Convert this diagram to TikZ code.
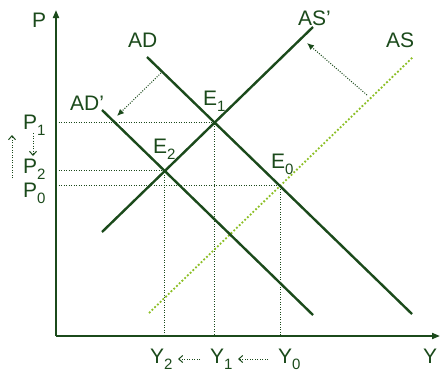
\documentclass[tikz,border=0pt]{standalone}
\usepackage{fontspec}
\setmainfont{Liberation Sans}
\usetikzlibrary{arrows.meta}
\definecolor{dkgreen}{HTML}{1B4A1B}
\definecolor{oldgreen}{HTML}{8CBF26}
\newcommand{\lowsub}[1]{\raisebox{-6pt}{\fontsize{15}{15}\selectfont #1}}

\begin{document}
\begin{tikzpicture}[
    x=1pt, y=-1pt,
    axis/.style={line width=1.8pt, draw=dkgreen, -{Triangle[length=8pt, width=6pt]}},
    curve/.style={line width=2.4pt, draw=dkgreen},
    oldcurve/.style={line width=1.8pt, draw=oldgreen, dotted},
    guide/.style={line width=1pt, draw=dkgreen, dash pattern=on 1pt off 1.5pt},
    shiftarrow/.style={line width=1pt, draw=dkgreen, dash pattern=on 1pt off 1.5pt, -{Latex[length=7pt, width=6pt]}},
    nudge/.style={line width=1pt, draw=dkgreen, dash pattern=on 1pt off 1.5pt, -{Straight Barb[length=4pt, width=7pt]}},
    lab/.style={font=\fontsize{21}{24}\selectfont, text=dkgreen, inner sep=0pt, anchor=base west},
]
\useasboundingbox (0,0) rectangle (441,373);

% Axes
\coordinate (O) at (56,336);
\coordinate (ytop) at (56,10);
\coordinate (xend) at (440,336);
\draw[axis] (O) -- (ytop);
\draw[axis] (O) -- (xend);
\node[lab] (plab) at (32,27) {P};
\node[lab] (ylab) at (423,363) {Y};

% Demand and supply lines
\coordinate (ad1) at (147,57);   \coordinate (ad2) at (412,314);
\coordinate (adp1) at (102,110); \coordinate (adp2) at (313,315);
\coordinate (asp1) at (102,232); \coordinate (asp2) at (313,27);
\coordinate (as1) at (149,313);  \coordinate (as2) at (413,57);

% Equilibria
\coordinate (E1) at (intersection of ad1--ad2 and asp1--asp2);
\coordinate (E2) at (intersection of adp1--adp2 and asp1--asp2);
\coordinate (E0) at (intersection of ad1--ad2 and as1--as2);

% Guide lines
\draw[guide] (E1 -| O) -- (E1) -- (E1 |- O);
\draw[guide] (E2 -| O) -- (E2) -- (E2 |- O);
\draw[guide] (E0 -| O) -- (E0) -- (E0 |- O);

\draw[oldcurve] (as1) -- (as2);
\draw[curve] (ad1) -- (ad2);
\draw[curve] (adp1) -- (adp2);
\draw[curve] (asp1) -- (asp2);

% Curve labels
\node[lab] (adlab) at (128,47) {AD};
\node[lab] (adplab) at (70,110) {AD'};
\node[lab] (asplab) at (298,25) {AS'};
\node[lab] (aslab) at (386,47) {AS};
\node[lab] (e1lab) at (203,105) {E\lowsub{1}};
\node[lab] (e2lab) at (153,153) {E\lowsub{2}};
\node[lab] (e0lab) at (271,168) {E\lowsub{0}};

% Shifts
\coordinate (adfrom) at (161,73);  \coordinate (adto) at (117,116);
\coordinate (asfrom) at (367,95);  \coordinate (asto) at (307,43);
\draw[shiftarrow] (adfrom) -- (adto);
\draw[shiftarrow] (asfrom) -- (asto);

% Price labels
\node[lab] (p1) at (23,129) {P\lowsub{1}};
\node[lab] (p2) at (23,173) {P\lowsub{2}};
\node[lab] (p0) at (23,197) {P\lowsub{0}};
\coordinate (pdown1) at (33,133); \coordinate (pdown2) at (33,156);
\coordinate (pup1) at (12,178);   \coordinate (pup2) at (12,135);
\draw[nudge] (pdown1) -- (pdown2);
\draw[nudge] (pup1) -- (pup2);

% Output labels
\node[lab] (y2) at (150,363) {Y\lowsub{2}};
\node[lab] (y1) at (210,363) {Y\lowsub{1}};
\node[lab] (y0) at (278,363) {Y\lowsub{0}};
\coordinate (ya1) at (200,359); \coordinate (yb1) at (178,359);
\coordinate (ya0) at (268,359); \coordinate (yb0) at (238,359);
\draw[nudge] (ya1) -- (yb1);
\draw[nudge] (ya0) -- (yb0);

\end{tikzpicture}
\end{document}
